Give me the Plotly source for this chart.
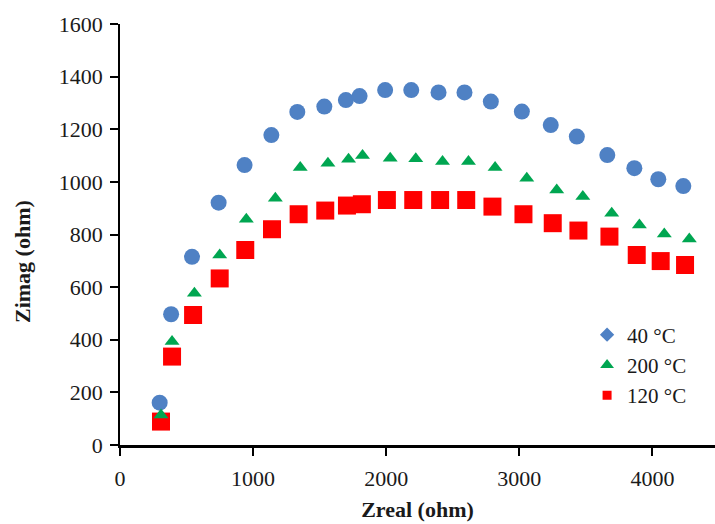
import plotly.graph_objects as go

# Nyquist data: real and imaginary impedance (ohm) at three temperatures
zreal_40 = [298, 384, 541, 741, 936, 1137, 1332, 1535, 1697, 1800, 1992, 2188,
            2393, 2588, 2786, 3019, 3236, 3432, 3661, 3864, 4044, 4232]
zimag_40 = [161, 497, 715, 921, 1064, 1178, 1266, 1286, 1311, 1326, 1349, 1349,
            1340, 1340, 1305, 1267, 1216, 1172, 1102, 1052, 1010, 984]

zreal_200 = [308, 391, 559, 749, 949, 1167, 1354, 1562, 1717, 1822, 2030, 2222,
             2423, 2618, 2818, 3056, 3281, 3477, 3694, 3902, 4089, 4277]
zimag_200 = [114, 393, 577, 722, 858, 938, 1055, 1071, 1086, 1100, 1090, 1088,
             1077, 1077, 1055, 1014, 969, 944, 881, 836, 802, 783]

zreal_120 = [308, 391, 549, 749, 941, 1142, 1342, 1542, 1705, 1817, 2005, 2203,
             2405, 2601, 2798, 3031, 3251, 3444, 3677, 3882, 4062, 4245]
zimag_120 = [89, 336, 494, 633, 741, 820, 877, 891, 910, 915, 931, 931,
             931, 931, 906, 877, 843, 815, 792, 722, 699, 684]

labels = ["40 °C", "200 °C", "120 °C"]
x_ticks = [0, 1000, 2000, 3000, 4000]
y_ticks = [0, 200, 400, 600, 800, 1000, 1200, 1400, 1600]

BLUE = "#4f81c4"
GREEN = "#00a651"
RED = "#ff0000"
FONT = "Liberation Serif"
INK = "#1a1a1a"

fig = go.Figure()

# data markers (drawn blue, red, green so triangles sit on top)
fig.add_trace(go.Scatter(x=zreal_40, y=zimag_40, mode="markers", showlegend=False,
                         marker=dict(symbol="circle", size=16, color=BLUE)))
fig.add_trace(go.Scatter(x=zreal_120, y=zimag_120, mode="markers", showlegend=False,
                         marker=dict(symbol="square", size=18, color=RED)))
fig.add_trace(go.Scatter(x=zreal_200, y=zimag_200, mode="markers", showlegend=False,
                         marker=dict(symbol="triangle-up", size=13, color=GREEN)))

# legend entries
for name, sym, col, sz in [(labels[0], "diamond", BLUE, 11),
                           (labels[1], "triangle-up", GREEN, 12),
                           (labels[2], "square", RED, 9)]:
    fig.add_trace(go.Scatter(x=[None], y=[None], mode="markers", name=name,
                             marker=dict(symbol=sym, size=sz, color=col)))

fig.update_traces(cliponaxis=False)

fig.update_layout(
    width=715, height=524,
    margin=dict(l=120, r=0, t=24, b=79),
    paper_bgcolor="white", plot_bgcolor="white",
    font=dict(family=FONT, size=22, color=INK),
    showlegend=True,
    legend=dict(x=0.785, y=0.31, xanchor="left", yanchor="top",
                bgcolor="rgba(0,0,0,0)", itemwidth=30,
                font=dict(family=FONT, size=21, color=INK)),
    xaxis=dict(range=[0, 4470], tickvals=x_ticks, showgrid=False, zeroline=False,
               showline=True, linecolor="black", linewidth=2.5,
               ticks="outside", ticklen=8, tickwidth=1.5, tickcolor="black",
               ticklabelstandoff=4,
               tickfont=dict(family=FONT, size=22, color=INK),
               title=dict(text="<b>Zreal (ohm)</b>", standoff=12,
                          font=dict(family=FONT, size=22, color=INK))),
    yaxis=dict(range=[0, 1600], tickvals=y_ticks, showgrid=False, zeroline=False,
               showline=True, linecolor="black", linewidth=1.5,
               ticks="outside", ticklen=8, tickwidth=1.5, tickcolor="black",
               ticklabelstandoff=3,
               tickfont=dict(family=FONT, size=22, color=INK)),
    annotations=[dict(text="<b>Zimag (ohm)</b>", textangle=-90,
                      xref="paper", yref="paper",
                      x=(22 - 120) / 595, y=(445 - 262) / 421,
                      xanchor="center", yanchor="middle", showarrow=False,
                      font=dict(family=FONT, size=22, color=INK))],
)

fig.write_html("out.html")
